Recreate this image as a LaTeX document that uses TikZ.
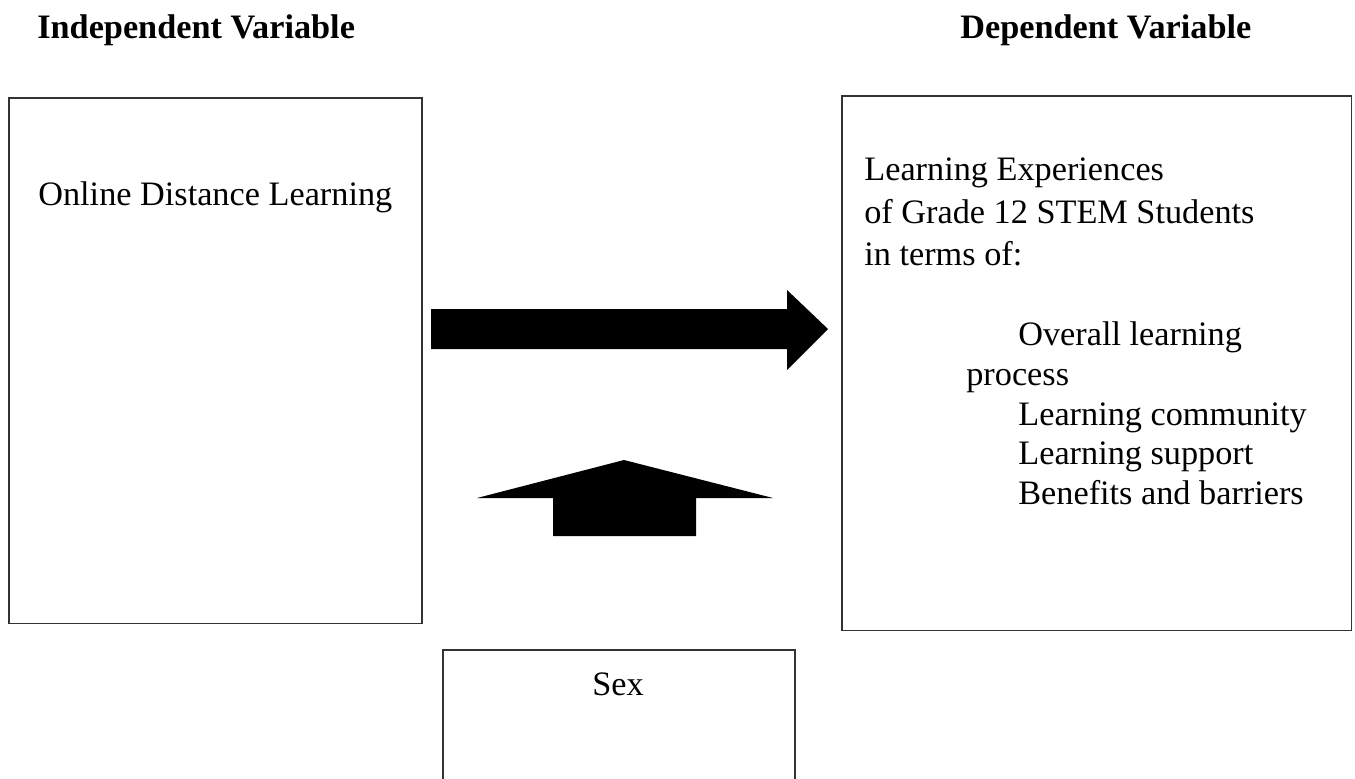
\documentclass[tikz,border=0pt]{standalone}
\usepackage{fontspec}
\setmainfont{Liberation Serif}
\usepackage{tikz}
\usetikzlibrary{positioning}

\begin{document}
\begin{tikzpicture}[
  x=0.02cm, y=-0.02cm,
  varbox/.style={rectangle, draw=black!80, line width=0.9pt, inner sep=0pt, anchor=north west},
  txt/.style={anchor=base west, inner sep=0pt, font=\fontsize{19.5}{24.5}\selectfont},
  heading/.style={txt, font=\fontsize{19.5}{24.5}\selectfont\bfseries},
  blockarrow/.style={fill=black}
]
\useasboundingbox (0,0) rectangle (1355,778);
\clip (0,0) rectangle (1355,778);

% headings
\node[heading] (ivhead) at (37,38) {Independent Variable};
\node[heading] (dvhead) at (960,38) {Dependent Variable};

% independent variable
\node[varbox, minimum width=8.26cm, minimum height=10.52cm] (ivbox) at (8,97) {};
\node[txt] (ivtext) at (38,205) {Online Distance Learning};

% dependent variable
\node[varbox, minimum width=10.2cm, minimum height=10.7cm] (dvbox) at (841,95) {};
\node[txt] (dvline1) at (864,180) {Learning Experiences};
\node[txt] (dvline2) at (864,223) {of Grade 12 STEM Students};
\node[txt] (dvline3) at (864,265) {in terms of:};
\node[txt] (dvitem1) at (1018,345) {Overall learning};
\node[txt] (dvitem1b) at (966,385) {process};
\node[txt] (dvitem2) at (1018,425) {Learning community};
\node[txt] (dvitem3) at (1018,464) {Learning support};
\node[txt] (dvitem4) at (1018,504) {Benefits and barriers};

% moderator
\node[varbox, minimum width=7.04cm, minimum height=3.5cm] (modbox) at (442,649) {};
\node[txt, anchor=base] (modtext) at (618,695) {Sex};

% block arrows
\fill[blockarrow] (431,309) -- (787,309) -- (787,290) -- (828,329) -- (787,370)
  -- (787,349) -- (431,349) -- cycle;
\fill[blockarrow] (553,536) -- (553,498) -- (477,498) -- (624,460) -- (773,498)
  -- (696,498) -- (696,536) -- cycle;
\end{tikzpicture}
\end{document}
